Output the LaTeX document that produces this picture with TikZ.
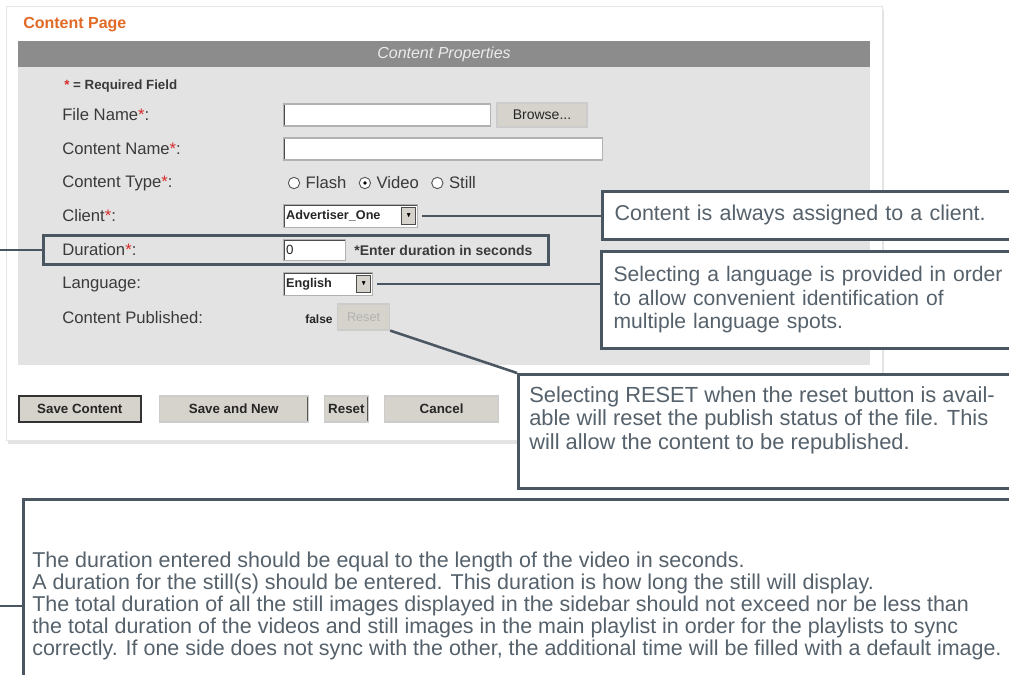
\documentclass[tikz,border=0pt]{standalone}
\usepackage{fontspec}
\setmainfont{Liberation Sans}
\usepackage{amssymb}
\usetikzlibrary{positioning}
\usetikzlibrary{shadows}

\definecolor{slate}{HTML}{4A5661}
\definecolor{notegray}{HTML}{55616B}
\definecolor{pageorange}{HTML}{E06A26}
\definecolor{headgray}{HTML}{8C8C8C}
\definecolor{bodygray}{HTML}{E3E3E3}
\definecolor{btngray}{HTML}{D6D3CC}
\definecolor{formtext}{HTML}{3A3A3A}
\definecolor{reqred}{HTML}{D42A2A}

\newcommand{\reqmark}{\textcolor{reqred}{*}}

\begin{document}
\begin{tikzpicture}[x=0.75pt,y=-0.75pt,
  px/.style 2 args={minimum width=0.75pt*#1,minimum height=0.75pt*#2},
  fieldname/.style={anchor=west,inner sep=0pt,text=formtext,font=\fontsize{12.5}{14}\selectfont},
  textbox/.style={draw=gray!60,fill=white,line width=0.8pt,inner sep=0pt,
    path picture={\draw[black!70,line width=1.6pt] (path picture bounding box.south west) -- (path picture bounding box.north west) -- (path picture bounding box.north east);}},
  dropdown/.style={textbox,anchor=west,align=left,inner xsep=2pt,font=\bfseries\fontsize{9.5}{11}\selectfont,text=black!85},
  ddarrow/.style={draw=gray!60!black,fill=btngray,line width=0.6pt,inner sep=0pt,px={14}{17},font=\tiny},
  btn/.style={draw=gray!40,fill=btngray,line width=0.9pt,inner sep=0pt,text=black!85,font=\bfseries\fontsize{10}{12}\selectfont,
    path picture={\draw[black!65,line width=1.6pt] (path picture bounding box.north east) -- (path picture bounding box.south east) -- (path picture bounding box.south west);}},
  radio/.style={circle,draw=gray!70!black,fill=white,line width=0.7pt,inner sep=0pt,minimum size=8.5pt},
  note/.style={draw=slate,line width=1.9pt,fill=white,anchor=north west,align=left,text=notegray,font=\fontsize{15.8}{17.6}\selectfont,inner xsep=9pt},
  notetext/.style={anchor=north west,inner sep=0pt,align=left,text=notegray},
  link/.style={draw=slate,line width=1.9pt}]
\useasboundingbox (0,0) rectangle (1009,674);
\clip (0,0) rectangle (1009,674);
\fill[white] (0,0) rectangle (1009,674);

% form panel
\node[draw=black!10,fill=white,drop shadow={shadow xshift=1.5pt,shadow yshift=-3pt,fill=black!18,opacity=0.6},anchor=north west,px={876}{434}] (panel) at (6,6) {};
\node[anchor=west,inner sep=0pt,text=pageorange,font=\bfseries\fontsize{12}{14}\selectfont] (title) at (23,25) {Content Page};
\node[fill=headgray,inner sep=0pt,px={852}{26},text=black!8,font=\itshape\fontsize{12}{14}\selectfont] (header) at (444,54) {Content Properties};
\node[fill=bodygray,anchor=north west,inner sep=0pt,px={852}{298}] (body) at (18,67) {};

% field names
\node[fieldname,font=\bfseries\fontsize{10}{12}\selectfont] (required) at (64,86) {\reqmark{} = Required Field};
\node[fieldname] (filename) at (62,115) {File Name\reqmark:};
\node[fieldname] (contentname) at (62,149) {Content Name\reqmark:};
\node[fieldname] (contenttype) at (62,183) {Content Type\reqmark:};
\node[fieldname] (client) at (62,216) {Client\reqmark:};
\node[fieldname] (duration) at (62,250) {Duration\reqmark:};
\node[fieldname] (language) at (62,284) {Language:};
\node[fieldname] (published) at (62,318) {Content Published:};

% inputs
\node[textbox,anchor=west,px={207}{22}] (filebox) at (283,115) {};
\node[btn,px={90}{24},right=4pt of filebox,font=\fontsize{10.5}{12}\selectfont] (browse) {Browse...};
\node[textbox,anchor=west,px={319}{22}] (namebox) at (283,149) {};
\node[radio] (flashradio) at (294,183) {};
\node[fieldname,right=4pt of flashradio] (flashtext) {Flash};
\node[radio,right=9pt of flashtext,path picture={\fill[black] (path picture bounding box.center) circle (1.4pt);}] (videoradio) {};
\node[fieldname,right=4pt of videoradio] (videotext) {Video};
\node[radio,right=9pt of videotext] (stillradio) {};
\node[fieldname,right=4pt of stillradio] (stilltext) {Still};
\node[dropdown,text width=96.5pt,px={134}{23}] (clientdd) at (283,216) {Advertiser\_One};
\node[ddarrow,left=1.5pt of clientdd.east] (clientarrow) {$\blacktriangledown$};
\node[dropdown,text width=42.5pt,px={62}{21},font=\fontsize{10}{12}\selectfont] (durbox) at (283,250) {0};
\node[anchor=west,inner sep=0pt,right=6pt of durbox,font=\bfseries\fontsize{10.5}{12}\selectfont,text=formtext] (durhint) {*Enter duration in seconds};
\node[dropdown,text width=62.75pt,px={89}{23}] (langdd) at (283,284) {English};
\node[ddarrow,left=1.5pt of langdd.east] (langarrow) {$\blacktriangledown$};
\node[anchor=west,inner sep=0pt,font=\bfseries\fontsize{9}{11}\selectfont,text=black!85] (falsetext) at (305,319) {false};
\node[btn,anchor=west,px={52}{26},text=black!30,font=\fontsize{9.5}{11}\selectfont] (resetsmall) at (337,317) {Reset};

% buttons
\node[btn,anchor=west,px={122}{26},draw=black!80,line width=1.2pt] (savebtn) at (18,409) {Save Content};
\node[btn,px={149}{26},right=12.75pt of savebtn] (savenewbtn) {Save and New};
\node[btn,px={44}{26},right=11.25pt of savenewbtn] (resetbtn) {Reset};
\node[btn,px={114}{26},right=11.25pt of resetbtn] (cancelbtn) {Cancel};

\node[draw=slate,line width=1.9pt,px={505}{29},anchor=west,inner sep=0pt] (durfocus) at (42,250) {};

% notes
\node[note,text width=304pt,px={430}{48},font=\fontsize{16.1}{17.6}\selectfont] (clientnote) at (601,190) {Content is always assigned to a client.};
\node[note,text width=304pt,px={430}{97}] (langnote) at (600,250) {Selecting a language is provided in order\\to allow convenient identification of\\multiple language spots.};
\node[note,px={520}{114}] (resetnote) at (517,373) {};
\node[notetext,font=\fontsize{16.4}{17.6}\selectfont] (resettext) at (529,386) {Selecting RESET when the reset button is avail-\\able will reset the publish status of the file. This\\will allow the content to be republished.};
\node[note,px={1000}{200}] (bottomnote) at (22,498) {};
\node[notetext,font=\fontsize{16.1}{16.5}\selectfont] (bottomtext) at (32,552) {The duration entered should be equal to the length of the video in seconds.\\A duration for the still(s) should be entered. This duration is how long the still will display.\\The total duration of all the still images displayed in the sidebar should not exceed nor be less than\\the total duration of the videos and still images in the main playlist in order for the playlists to sync\\correctly. If one side does not sync with the other, the additional time will be filled with a default image.};

\coordinate (durstub) at (0,250);
\coordinate (bottomstub) at (0,606);
\draw[link,shorten <=3pt] (clientdd.east) -- (clientdd.east -| clientnote.west);
\draw[link,shorten <=3pt] (langdd.east) -- (langdd.east -| langnote.west);
\draw[link] (resetsmall.south east) -- (resetnote.north west);
\draw[link] (durfocus.west) -- (durstub);
\draw[link] (bottomstub -| bottomnote.west) -- (bottomstub);
\end{tikzpicture}
\end{document}
